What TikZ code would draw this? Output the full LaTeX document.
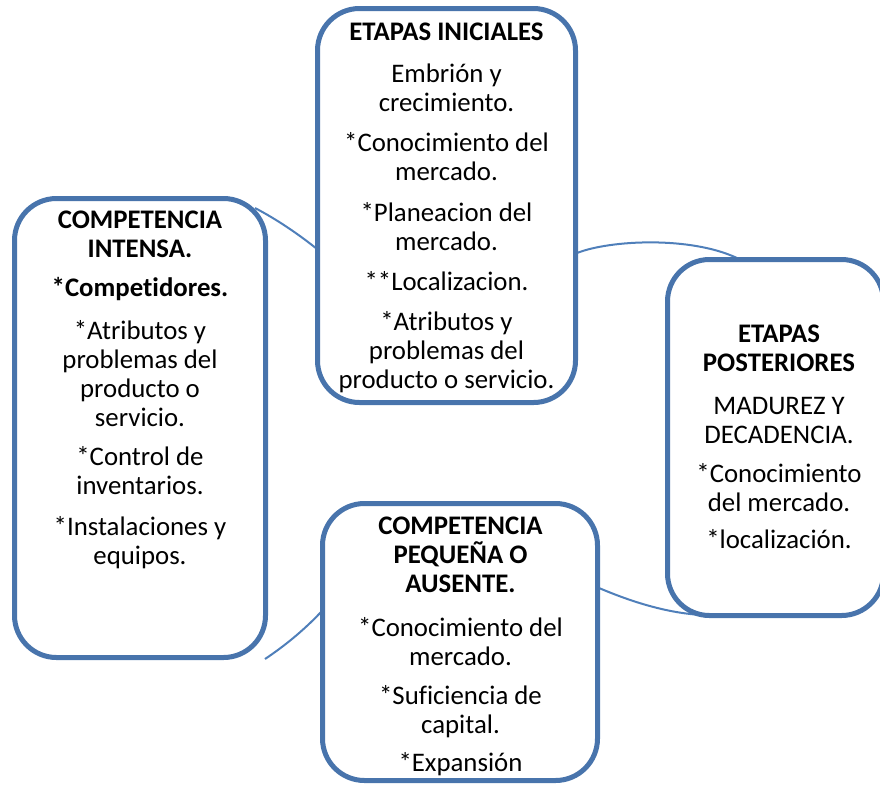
\documentclass[tikz,border=0pt]{standalone}
\usepackage{fontspec}
\setmainfont[Ligatures=NoCommon]{Carlito}
\definecolor{boxblue}{RGB}{72,116,172}
\definecolor{arcblue}{RGB}{79,127,186}
\begin{document}
\begin{tikzpicture}[x=1pt,y=-1pt,
  box/.style={draw=boxblue, line width=5pt, fill=white, rounded corners=42pt, inner sep=0pt, outer sep=0pt},
  txt/.style={align=center, inner sep=0pt, anchor=north, font=\fontsize{26.8}{29}\selectfont},
  conn/.style={draw=arcblue, line width=2pt}]
\useasboundingbox (0,0) rectangle (880,785);
\clip (0,0) rectangle (880,785);
% connector end points
\coordinate (a1s) at (255,208);
\coordinate (a1e) at (317,249);
\coordinate (a2s) at (577,253);
\coordinate (a2e) at (737,258);
\coordinate (a3s) at (599,588);
\coordinate (a3e) at (702,615);
\coordinate (a4s) at (265,659);
\coordinate (a4e) at (321,612);
% connectors (behind the boxes)
\draw[conn] (a1s) .. controls (276,219) and (297,233) .. (a1e);
\draw[conn] (a2s) .. controls (610,240) and (690,236) .. (a2e);
\draw[conn] (a3s) .. controls (632,602) and (667,613) .. (a3e);
\draw[conn] (a4s) .. controls (286,645) and (305,629) .. (a4e);
% boxes
\node[box, minimum width=258pt, minimum height=394pt] (topbox) at (446.5,205.5) {};
\node[box, minimum width=251pt, minimum height=459pt] (leftbox) at (140,428) {};
\node[box, minimum width=216pt, minimum height=356pt] (rightbox) at (775.5,437.5) {};
\node[box, minimum width=275pt, minimum height=277pt] (bottombox) at (460,642) {};
% texts
\node[txt] (toptext) at (446.5,22.5) {\textbf{ETAPAS INICIALES}\\[13pt]
  Embrión y\\ crecimiento.\\[11.5pt]
  *Conocimiento del\\ mercado.\\[11.5pt]
  *Planeacion del\\ mercado.\\[11.5pt]
  **Localizacion.\\[11pt]
  *Atributos y\\ problemas del\\ producto o servicio.};
\node[txt] (lefttext) at (140,210.5) {\textbf{COMPETENCIA}\\ \textbf{INTENSA.}\\[10pt]
  \textbf{*Competidores.}\\[14pt]
  *Atributos y\\ problemas del\\ producto o\\ servicio.\\[10.5pt]
  *Control de\\ inventarios.\\[12pt]
  *Instalaciones y\\ equipos.};
\node[txt] (righttext) at (779,324.5) {\textbf{ETAPAS}\\ \textbf{POSTERIORES}\\[14pt]
  MADUREZ Y\\ DECADENCIA.\\[10pt]
  *Conocimiento\\ del mercado.\\[8pt]
  *localización.};
\node[txt] (bottomtext) at (460.5,516.5) {\textbf{COMPETENCIA}\\ \textbf{PEQUEÑA O}\\ \textbf{AUSENTE.}\\[15pt]
  *Conocimiento del\\ mercado.\\[10.5pt]
  *Suficiencia de\\ capital.\\[9pt]
  *Expansión};
\end{tikzpicture}
\end{document}
